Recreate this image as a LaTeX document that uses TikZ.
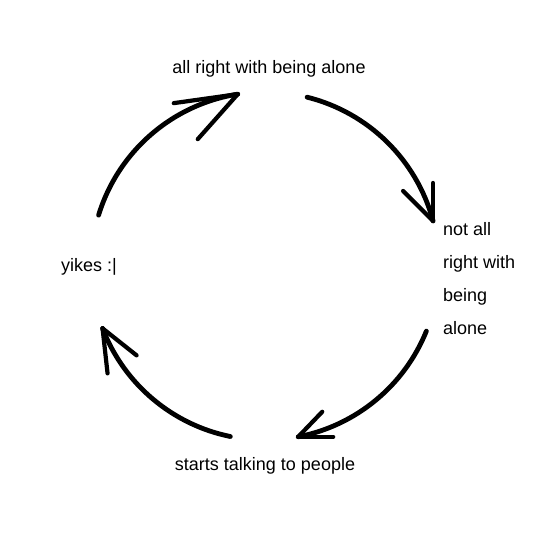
\documentclass[tikz,border=0pt]{standalone}
\usepackage{fontspec}
\setmainfont{Liberation Sans}
\usetikzlibrary{calc}
\begin{document}
\begin{tikzpicture}[x=1pt,y=-1pt,
  lbl/.style={inner sep=0pt, font=\fontsize{18}{33}\selectfont, text=black},
  stroke/.style={line width=4.8pt, line cap=round, line join=round, black},
  barb/.style={line width=4.2pt, line cap=round, black}]
\useasboundingbox[fill=white] (0,0) rectangle (540,540);
\coordinate (c) at (265,266);
% labels
\node[lbl, anchor=base] (top) at (269,74) {all right with being alone};
\node[lbl, anchor=north west, align=left] (right) at (443,221.9) {not all\\right with\\being\\alone};
\node[lbl, anchor=base] (bottom) at (265,470) {starts talking to people};
\node[lbl, anchor=base west] (left) at (61,271.7) {yikes :|};
% arc end points
\coordinate (s1) at ($(c)+(-163:174)$);
\coordinate (t1) at ($(c)+(-99:174)$);
\coordinate (s2) at ($(c)+(-76:174)$);
\coordinate (t2) at ($(c)+(-15:174)$);
\coordinate (s3) at ($(c)+(22:174)$);
\coordinate (t3) at ($(c)+(79:174)$);
\coordinate (s4) at ($(c)+(101.5:174)$);
\coordinate (t4) at ($(c)+(159:174)$);
% arrows
\draw[stroke] (s1) arc[start angle=-163, end angle=-99, radius=174];
\draw[barb] (t1) -- ++(-64,9);
\draw[barb] (t1) -- ++(-40,45);
\draw[stroke] (s2) arc[start angle=-76, end angle=-15, radius=174];
\draw[barb] (t2) -- ++(0,-38);
\draw[barb] (t2) -- ++(-30,-30);
\draw[stroke] (s3) arc[start angle=22, end angle=79, radius=174];
\draw[barb] (t3) -- ++(24,-25);
\draw[barb] (t3) -- ++(35,0);
\draw[stroke] (s4) arc[start angle=101.5, end angle=159, radius=174];
\draw[barb] (t4) -- ++(34,27);
\draw[barb] (t4) -- ++(5,45);
\end{tikzpicture}
\end{document}
